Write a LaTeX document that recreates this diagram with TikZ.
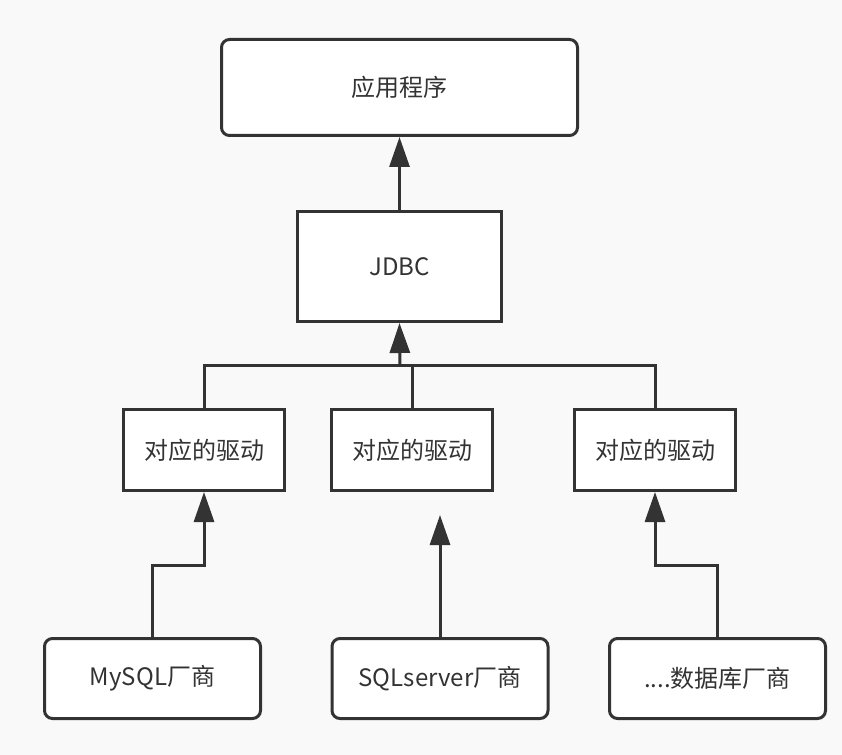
\documentclass[tikz,border=0pt]{standalone}
\usepackage{fontspec}
\setmainfont{Noto Sans CJK SC}
\usetikzlibrary{arrows.meta}
\definecolor{bgcol}{RGB}{249,249,249}
\definecolor{linecol}{RGB}{51,51,51}
\tikzset{
  box/.style={draw=linecol, line width=2.25pt, fill=white, font=\fontsize{18}{21}\selectfont, text=linecol},
  rbox/.style={box, rounded corners=6pt},
  arr/.style={draw=linecol, line width=2.25pt, -{Triangle[length=22.5pt,width=15pt]}},
  wire/.style={draw=linecol, line width=2.25pt}
}
\begin{document}
\begin{tikzpicture}[x=0.75pt,y=0.75pt,yscale=-1,xscale=1]
%background
\fill[bgcol] (0,0) rectangle (842,755);
\useasboundingbox (0,0) rectangle (842,755);

% Shape: top box
\node[rbox, minimum width=267pt, minimum height=72pt] (app) at (399.5,87.5) {应用程序};
% Shape: JDBC
\node[box, minimum width=153pt, minimum height=82.5pt] (jdbc) at (399.5,266.5) {JDBC};
% Shape: drivers
\node[box, minimum width=120.75pt, minimum height=60.75pt] (drvA) at (204,450) {对应的驱动};
\node[box, minimum width=120.75pt, minimum height=60.75pt] (drvB) at (412,450) {对应的驱动};
\node[box, minimum width=120.75pt, minimum height=60.75pt] (drvC) at (655,450) {对应的驱动};
% Shape: vendors
\node[rbox, minimum width=162pt, minimum height=60pt] (venA) at (152.5,678.5) {MySQL厂商};
\node[rbox, minimum width=162pt, minimum height=60pt] (venB) at (440,678.5) {SQLserver厂商};
\node[rbox, minimum width=162pt, minimum height=60pt] (venC) at (717.5,678.5) {....数据库厂商};

\coordinate (bus) at (400,366);
\coordinate (tipB) at (440,515);

%Straight Lines
\draw[arr] (jdbc.north) -- (app.south);
\draw[wire] (drvA.north) |- (bus) -| (drvC.north);
\draw[wire] (drvB.north) -- (drvB.north |- bus);
\draw[arr] (bus) -- (jdbc.south);

%Straight Lines
\draw[arr] (venA.north) -- ++(0,-72) -| (drvA.south);
\draw[arr] (venB.north) -- (tipB);
\draw[arr] (venC.north) -- ++(0,-72) -| (drvC.south);

\end{tikzpicture}
\end{document}
